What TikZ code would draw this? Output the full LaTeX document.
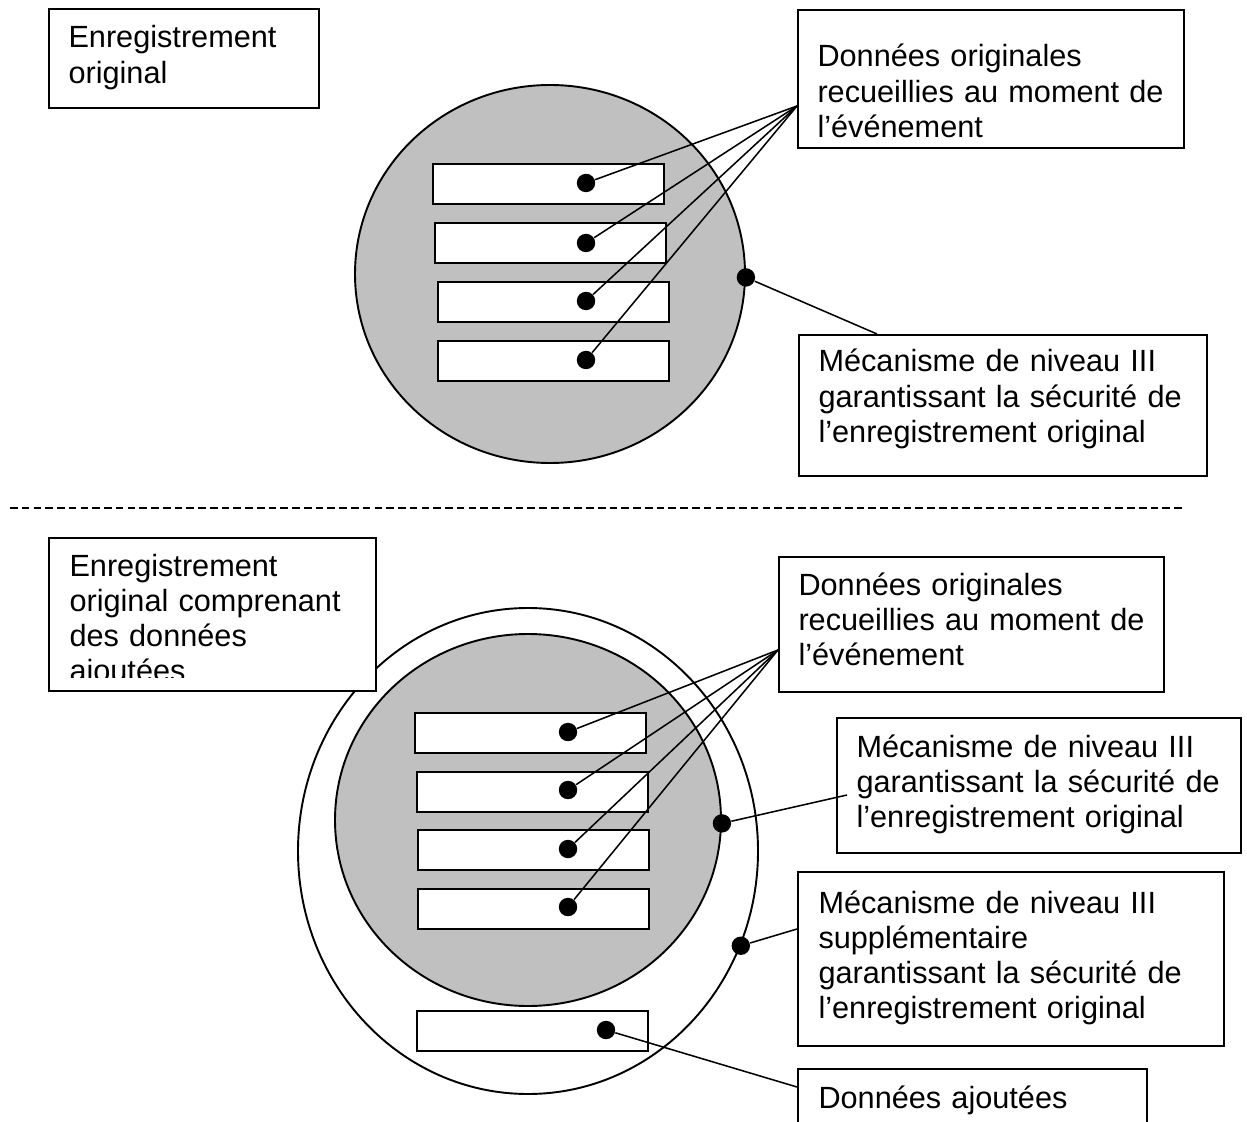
\documentclass[tikz,border=0pt]{standalone}
\usepackage{fontspec}
\setmainfont{Liberation Sans}
\usetikzlibrary{shapes.geometric}
\definecolor{recgray}{HTML}{C0C0C0}
\newcommand{\pxu}{0.3912pt}

\begin{document}
\begin{tikzpicture}
  [x=\pxu,y=-\pxu,
   box/.style={draw,fill=white,line width=0.75pt,inner sep=0pt,anchor=north west},
   slot/.style={box,minimum width=231*\pxu,minimum height=40*\pxu},
   rec/.style={ellipse,draw,line width=0.75pt,inner sep=0pt},
   dot/.style={circle,fill=black,inner sep=0pt,minimum size=7.2pt},
   txt/.style={anchor=base west,align=left,text width=6cm,inner sep=0pt,
     font=\fontsize{12pt}{13.8pt}\selectfont},
   wire/.style={line width=0.6pt}]
  \useasboundingbox (0,0) rectangle (1247,1122);

  % original record
  \node[rec,fill=recgray,minimum width=390*\pxu,minimum height=378*\pxu] (rec) at (550,274) {};
  \node[slot] (s1) at (432,163) {};
  \node[slot] (s2) at (434,222) {};
  \node[slot] (s3) at (437,281) {};
  \node[slot] (s4) at (437,340) {};

  \node[box,minimum width=270*\pxu,minimum height=99*\pxu] (orig) at (48,8) {};
  \node[txt] at (68,48) {Enregistrement\\original};
  \node[box,minimum width=386*\pxu,minimum height=138*\pxu] (data) at (797,9) {};
  \node[txt] at (817,67) {Données originales\\recueillies au moment de\\l’événement};
  \node[box,minimum width=408*\pxu,minimum height=141*\pxu] (mech) at (798,334) {};
  \node[txt] at (818,372) {Mécanisme de niveau III\\garantissant la sécurité de\\l’enregistrement original};

  \node[dot] (d1) at (586,183) {};
  \node[dot] (d2) at (586,243) {};
  \node[dot] (d3) at (586,301) {};
  \node[dot] (d4) at (586,360) {};
  \node[dot] (dm) at (rec.-1) {};
  \coordinate (datatip) at (797,106);
  \coordinate (mechtip) at (877,334);

  \foreach \from/\to in {d1/datatip,d2/datatip,d3/datatip,d4/datatip,dm/mechtip}
    \draw[wire] (\from) -- (\to);

  \draw[line width=0.75pt,dash pattern=on 3pt off 1.6pt] (10,508) -- (1183,508);

  % record with added data
  \node[rec,fill=white,minimum width=460*\pxu,minimum height=486*\pxu] (recout) at (528,851) {};
  \node[rec,fill=recgray,minimum width=386*\pxu,minimum height=372*\pxu] (recin) at (528,820) {};
  \node[slot] (t1) at (414,712) {};
  \node[slot] (t2) at (416,771) {};
  \node[slot] (t3) at (417,829) {};
  \node[slot] (t4) at (417,888) {};
  \node[slot] (ta) at (416,1010) {};

  \node[box,minimum width=327*\pxu,minimum height=153*\pxu] (comp) at (48,537) {};
  \begin{scope}
    \clip (48,537) rectangle (375,677);
    \node[txt] at (69,576) {Enregistrement\\original comprenant\\des données\\ajoutées};
  \end{scope}
  \node[box,minimum width=385*\pxu,minimum height=135*\pxu] (data2) at (778,556) {};
  \node[txt] at (798,595) {Données originales\\recueillies au moment de\\l’événement};
  \node[box,minimum width=404*\pxu,minimum height=135*\pxu] (mech2) at (836,717) {};
  \node[txt] at (856,757) {Mécanisme de niveau III\\garantissant la sécurité de\\l’enregistrement original};
  \node[box,minimum width=426*\pxu,minimum height=174*\pxu] (sup) at (797,871) {};
  \node[txt] at (818,913) {Mécanisme de niveau III\\supplémentaire\\garantissant la sécurité de\\l’enregistrement original};
  \node[box,minimum width=349*\pxu,minimum height=90*\pxu] (added) at (797,1068) {};
  \node[txt] at (818,1108) {Données ajoutées};

  \node[dot] (e1) at (568,732) {};
  \node[dot] (e2) at (568,790) {};
  \node[dot] (e3) at (568,849) {};
  \node[dot] (e4) at (568,907) {};
  \node[dot] (ea) at (606,1030) {};
  \node[dot] (em) at (recin.-1) {};
  \node[dot] (es) at (recout.-24.6) {};
  \coordinate (data2tip) at (778,650);
  \coordinate (mech2tip) at (847,795);
  \coordinate (suptip) at (797,929);
  \coordinate (addedtip) at (797,1087);

  \foreach \from/\to in {e1/data2tip,e2/data2tip,e3/data2tip,e4/data2tip,
      em/mech2tip,es/suptip,ea/addedtip}
    \draw[wire] (\from) -- (\to);

\end{tikzpicture}
\end{document}
